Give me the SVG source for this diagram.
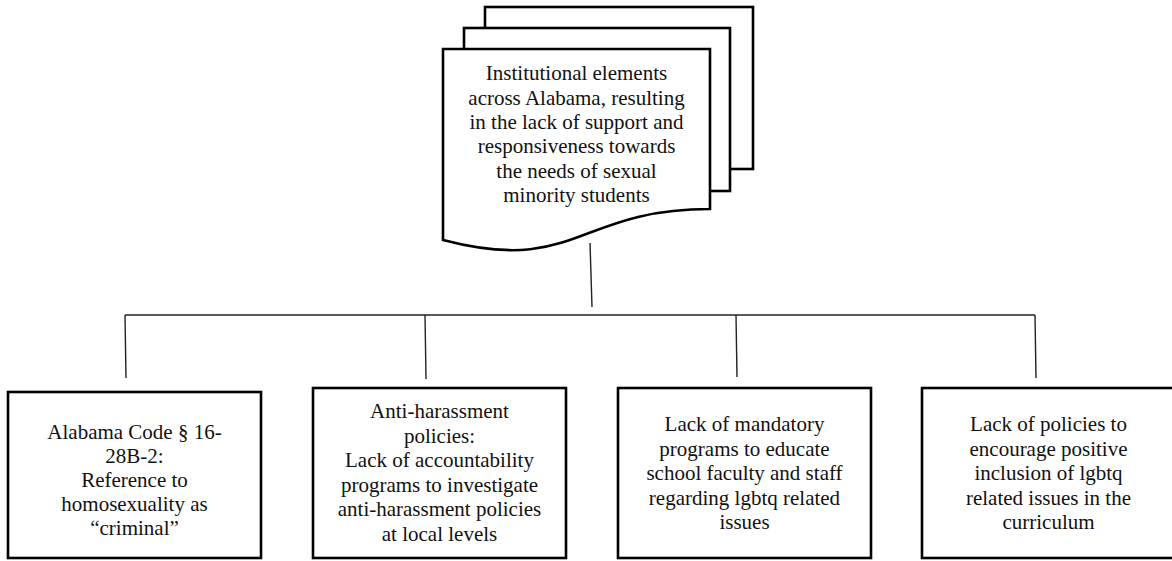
<svg xmlns="http://www.w3.org/2000/svg" width="1172" height="561" viewBox="0 0 1172 561">
<style>
.shape{fill:#fff;stroke:#000;stroke-width:2.6}
.conn{fill:none;stroke:#222;stroke-width:1.4}
.t{font-family:'Liberation Serif','Times New Roman',serif;font-size:21px;fill:#111;text-anchor:middle}
</style>
<rect width="1172" height="561" fill="#fff"/>
<g id="root">
<rect class="shape" x="485" y="7" width="268" height="162"/>
<rect class="shape" x="464" y="28" width="266" height="163"/>
<path class="shape" d="M443,49 H710 V209 C576.5,209 576.5,275 443,240 Z"/>
<g class="t">
<text x="576.5" y="80">Institutional elements</text>
<text x="576.5" y="105">across Alabama, resulting</text>
<text x="576.5" y="129">in the lack of support and</text>
<text x="576.5" y="153">responsiveness towards</text>
<text x="576.5" y="178">the needs of sexual</text>
<text x="576.5" y="202">minority students</text>
</g>
</g>
<g id="connectors">
<path class="conn" d="M590,243 L592,307"/>
<path class="conn" d="M125,315 H1035"/>
<path class="conn" d="M125,315 L126,378"/>
<path class="conn" d="M425,315 L426,379"/>
<path class="conn" d="M736,315 L737,377"/>
<path class="conn" d="M1035,315 L1036,378"/>
</g>
<g id="box1">
<rect class="shape" x="8" y="392" width="253" height="166"/>
<g class="t">
<text x="134.5" y="439">Alabama Code § 16-</text>
<text x="134.5" y="463">28B-2:</text>
<text x="134.5" y="487">Reference to</text>
<text x="134.5" y="511">homosexuality as</text>
<text x="134.5" y="535">“criminal”</text>
</g>
</g>
<g id="box2">
<rect class="shape" x="313" y="388" width="253" height="170"/>
<g class="t">
<text x="439.5" y="418">Anti-harassment</text>
<text x="439.5" y="443">policies:</text>
<text x="439.5" y="467">Lack of accountability</text>
<text x="439.5" y="492">programs to investigate</text>
<text x="439.5" y="516">anti-harassment policies</text>
<text x="439.5" y="541">at local levels</text>
</g>
</g>
<g id="box3">
<rect class="shape" x="618" y="388" width="253" height="170"/>
<g class="t">
<text x="744.5" y="431">Lack of mandatory</text>
<text x="744.5" y="456">programs to educate</text>
<text x="744.5" y="480">school faculty and staff</text>
<text x="744.5" y="505">regarding lgbtq related</text>
<text x="744.5" y="529">issues</text>
</g>
</g>
<g id="box4">
<rect class="shape" x="922" y="388" width="253" height="170"/>
<g class="t">
<text x="1048.5" y="431">Lack of policies to</text>
<text x="1048.5" y="456">encourage positive</text>
<text x="1048.5" y="480">inclusion of lgbtq</text>
<text x="1048.5" y="505">related issues in the</text>
<text x="1048.5" y="529">curriculum</text>
</g>
</g>
</svg>
